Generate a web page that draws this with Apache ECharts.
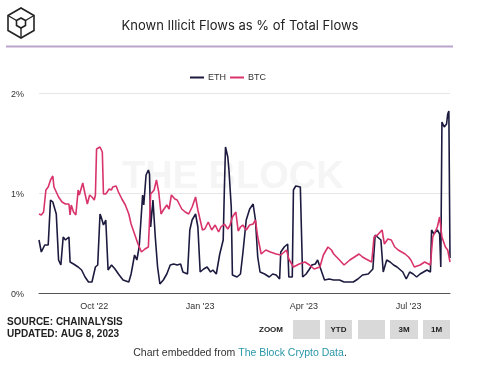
<!DOCTYPE html>
<html><head><meta charset="utf-8">
<script src="https://cdn.jsdelivr.net/npm/echarts@6/dist/echarts.min.js"></script>
<style>html,body{margin:0;padding:0;background:#fff}#c{width:480px;height:367px}</style>
</head><body><div id="c"></div>
<script>
var titleText = "Known Illicit Flows as % of Total Flows";
var seriesNames = ["ETH", "BTC"];
var seriesColors = ["#1c1b3f", "#d8336a"];
var xTickDates = ["2022-10-01", "2023-01-01", "2023-04-01", "2023-07-01"];
var xTickLabels = ["Oct '22", "Jan '23", "Apr '23", "Jul '23"];
var yTicks = [0, 1, 2];

var ethData = [
["2022-08-14",0.53],["2022-08-16",0.41],["2022-08-19",0.48],["2022-08-22",0.48],["2022-08-24",0.93],
["2022-08-26",0.91],["2022-08-28",0.83],["2022-08-29",0.79],["2022-08-31",0.33],["2022-09-02",0.28],
["2022-09-04",0.56],["2022-09-06",0.53],["2022-09-09",0.56],["2022-09-10",0.31],["2022-09-13",0.29],
["2022-09-17",0.26],["2022-09-20",0.23],["2022-09-23",0.16],["2022-09-26",0.11],["2022-09-29",0.11],
["2022-10-02",0.26],["2022-10-04",0.28],["2022-10-06",0.79],["2022-10-07",0.76],["2022-10-09",0.68],
["2022-10-11",0.73],["2022-10-13",0.23],["2022-10-16",0.28],["2022-10-19",0.24],["2022-10-22",0.19],
["2022-10-26",0.13],["2022-10-31",0.11],["2022-11-02",0.19],["2022-11-05",0.38],["2022-11-07",0.33],
["2022-11-09",0.46],["2022-11-12",0.98],["2022-11-13",0.88],["2022-11-15",1.18],["2022-11-17",1.23],
["2022-11-18",1.19],["2022-11-19",0.66],["2022-11-21",0.93],["2022-11-23",0.56],["2022-11-25",0.26],
["2022-11-27",0.09],["2022-11-30",0.13],["2022-12-03",0.19],["2022-12-06",0.28],["2022-12-09",0.29],
["2022-12-12",0.28],["2022-12-15",0.29],["2022-12-17",0.21],["2022-12-21",0.19],["2022-12-23",0.63],
["2022-12-25",0.73],["2022-12-28",0.79],["2022-12-30",0.66],["2023-01-01",0.21],["2023-01-04",0.24],
["2023-01-07",0.26],["2023-01-10",0.21],["2023-01-12",0.23],["2023-01-15",0.19],["2023-01-18",0.39],
["2023-01-21",0.53],["2023-01-22",1.03],["2023-01-23",1.46],["2023-01-25",1.36],["2023-01-26",1.23],
["2023-01-28",0.86],["2023-01-29",0.18],["2023-02-02",0.16],["2023-02-05",0.19],["2023-02-07",0.39],
["2023-02-10",0.73],["2023-02-13",0.84],["2023-02-16",0.89],["2023-02-18",0.73],["2023-02-20",0.36],
["2023-02-22",0.21],["2023-02-26",0.19],["2023-03-02",0.16],["2023-03-05",0.19],["2023-03-08",0.18],
["2023-03-11",0.14],["2023-03-12",0.41],["2023-03-15",0.46],["2023-03-18",0.49],["2023-03-19",0.16],
["2023-03-22",0.16],["2023-03-23",1.03],["2023-03-25",1.07],["2023-03-29",1.06],["2023-03-31",0.16],
["2023-04-03",0.19],["2023-04-06",0.24],["2023-04-08",0.28],["2023-04-11",0.29],["2023-04-13",0.33],
["2023-04-16",0.23],["2023-04-19",0.13],["2023-04-23",0.14],["2023-04-27",0.13],["2023-05-02",0.13],
["2023-05-06",0.11],["2023-05-11",0.11],["2023-05-14",0.11],["2023-05-18",0.14],["2023-05-22",0.18],
["2023-05-27",0.19],["2023-05-31",0.24],["2023-06-02",0.58],["2023-06-04",0.56],["2023-06-07",0.53],
["2023-06-09",0.21],["2023-06-12",0.33],["2023-06-15",0.31],["2023-06-18",0.28],["2023-06-21",0.26],
["2023-06-24",0.23],["2023-06-26",0.21],["2023-06-29",0.14],["2023-07-02",0.21],["2023-07-05",0.19],
["2023-07-08",0.16],["2023-07-11",0.19],["2023-07-14",0.21],["2023-07-17",0.23],["2023-07-20",0.21],
["2023-07-21",0.63],["2023-07-23",0.59],["2023-07-26",0.63],["2023-07-28",0.59],["2023-07-29",0.26],
["2023-07-30",1.71],["2023-08-01",1.66],["2023-08-03",1.69],["2023-08-04",1.79],["2023-08-05",1.82],
["2023-08-06",0.35]
];

var btcData = [
["2022-08-14",0.79],["2022-08-16",0.78],["2022-08-18",0.81],["2022-08-20",1.03],["2022-08-22",1.06],
["2022-08-24",1.13],["2022-08-26",1.17],["2022-08-27",1.06],["2022-08-29",1.01],["2022-08-31",0.96],
["2022-09-03",0.91],["2022-09-06",0.89],["2022-09-09",0.89],["2022-09-10",0.78],["2022-09-11",0.88],
["2022-09-13",0.81],["2022-09-15",0.78],["2022-09-17",1.03],["2022-09-18",0.98],["2022-09-21",1.10],
["2022-09-23",0.99],["2022-09-25",0.89],["2022-09-27",0.98],["2022-09-29",0.96],["2022-10-01",0.93],
["2022-10-02",0.98],["2022-10-03",1.44],["2022-10-06",1.46],["2022-10-08",1.41],["2022-10-09",0.99],
["2022-10-11",0.99],["2022-10-14",1.04],["2022-10-16",1.03],["2022-10-17",1.06],["2022-10-20",1.07],
["2022-10-22",1.01],["2022-10-25",0.94],["2022-10-28",0.88],["2022-10-31",0.79],["2022-11-02",0.69],
["2022-11-05",0.59],["2022-11-08",0.49],["2022-11-11",0.41],["2022-11-14",0.44],["2022-11-17",0.46],
["2022-11-19",0.99],["2022-11-22",1.03],["2022-11-24",1.13],["2022-11-26",1.01],["2022-11-28",0.79],
["2022-11-30",0.83],["2022-12-03",0.88],["2022-12-05",0.84],["2022-12-07",0.98],["2022-12-10",0.94],
["2022-12-12",0.93],["2022-12-16",0.84],["2022-12-19",0.81],["2022-12-22",0.79],["2022-12-25",0.86],
["2022-12-28",0.96],["2022-12-30",0.83],["2023-01-01",0.73],["2023-01-03",0.63],["2023-01-05",0.64],
["2023-01-08",0.71],["2023-01-11",0.63],["2023-01-14",0.68],["2023-01-17",0.61],["2023-01-19",0.66],
["2023-01-22",0.69],["2023-01-25",0.64],["2023-01-27",0.68],["2023-01-29",0.76],["2023-02-01",0.81],
["2023-02-03",0.62],["2023-02-05",0.66],["2023-02-07",0.68],["2023-02-10",0.63],["2023-02-13",0.68],
["2023-02-16",0.69],["2023-02-18",0.73],["2023-02-20",0.56],["2023-02-23",0.39],["2023-02-27",0.43],
["2023-03-03",0.41],["2023-03-08",0.39],["2023-03-12",0.38],["2023-03-17",0.43],["2023-03-19",0.34],
["2023-03-23",0.26],["2023-03-28",0.29],["2023-04-02",0.31],["2023-04-06",0.28],["2023-04-10",0.24],
["2023-04-15",0.26],["2023-04-18",0.38],["2023-04-22",0.46],["2023-04-25",0.43],["2023-04-27",0.39],
["2023-05-02",0.33],["2023-05-06",0.28],["2023-05-11",0.33],["2023-05-15",0.36],["2023-05-19",0.39],
["2023-05-22",0.36],["2023-05-25",0.34],["2023-05-30",0.31],["2023-06-01",0.56],["2023-06-04",0.58],
["2023-06-08",0.63],["2023-06-10",0.49],["2023-06-13",0.54],["2023-06-16",0.53],["2023-06-19",0.46],
["2023-06-22",0.43],["2023-06-25",0.41],["2023-06-28",0.39],["2023-07-01",0.36],["2023-07-03",0.33],
["2023-07-06",0.26],["2023-07-11",0.28],["2023-07-15",0.31],["2023-07-20",0.28],["2023-07-22",0.56],
["2023-07-26",0.66],["2023-07-28",0.76],["2023-07-30",0.56],["2023-08-02",0.46],["2023-08-04",0.43],
["2023-08-06",0.31]
];

var xMin = "2022-08-14", xMax = "2023-08-06";

function parseUTC(s){ var p = s.split("-"); return Date.UTC(+p[0], +p[1]-1, +p[2]); }
var tickTimes = xTickDates.map(parseUTC);
function toPoints(arr){ return arr.map(function(d){ return [parseUTC(d[0]), d[1]]; }); }

var chart = echarts.init(document.getElementById("c"), null, {renderer: "canvas"});
var baseFont = "Liberation Sans, Arial, sans-serif";

var option = {
  animation: false,
  backgroundColor: "#fff",
  title: {
    text: titleText, left: "center", top: 15,
    textStyle: {fontFamily: "Inter, Lato, sans-serif", fontSize: 13, fontWeight: "normal", color: "#222"}
  },
  legend: {
    data: seriesNames, top: 68, left: 185,
    icon: "rect", itemWidth: 14, itemHeight: 2, itemGap: 4,
    textStyle: {fontFamily: baseFont, fontSize: 9, color: "#333", padding: [0, 0, 0, -1]}
  },
  grid: {left: 39, right: 30, top: 93, bottom: 74},
  xAxis: {
    type: "value", min: parseUTC(xMin), max: parseUTC(xMax),
    axisLine: {onZero: false, lineStyle: {color: "#555", width: 1}},
    axisTick: {show: false},
    splitLine: {show: false},
    axisLabel: {
      customValues: tickTimes,
      color: "#333", fontFamily: baseFont, fontSize: 9, margin: 9,
      formatter: function (v) {
        for (var k = 0; k < tickTimes.length; k++) if (Math.abs(tickTimes[k]-v) < 864e5) return xTickLabels[k];
        return "";
      }
    }
  },
  yAxis: {
    type: "value", min: yTicks[0], max: yTicks[yTicks.length-1], interval: 1,
    axisLine: {show: false}, axisTick: {show: false},
    splitLine: {lineStyle: {color: "#e6e6e6", width: 1}},
    axisLabel: {
      formatter: "{value}%", align: "left", margin: 28, verticalAlign: "top", padding: [-3, 0, 0, 0],
      color: "#333", fontFamily: baseFont, fontSize: 9
    }
  },
  graphic: [
    {type: "polygon", shape: {points: [[21,8],[34,15.5],[34,30.5],[21,38],[8,30.5],[8,15.5]]},
     style: {fill: "none", stroke: "#222", lineWidth: 1.6}},
    {type: "polygon", shape: {points: [[21,18],[25.5,20.5],[25.5,25.5],[21,28],[16.5,25.5],[16.5,20.5]]},
     style: {fill: "none", stroke: "#222", lineWidth: 1.6}},
    {type: "polyline", shape: {points: [[8,15.5],[16.5,20.5]]}, style: {stroke: "#222", lineWidth: 1.4}},
    {type: "polyline", shape: {points: [[34,15.5],[25.5,20.5]]}, style: {stroke: "#222", lineWidth: 1.4}},
    {type: "polyline", shape: {points: [[21,28],[21,38]]}, style: {stroke: "#222", lineWidth: 1.4}},
    {type: "rect", shape: {x: 6, y: 45.5, width: 447, height: 2}, style: {fill: "#bba3cc"}},
    {type: "text", left: 122, top: 159, z: 0,
     style: {text: "THE BLOCK", fontFamily: "Liberation Sans, Arial, sans-serif", fontWeight: "bold", fontSize: 38, fill: "#f5f5f5"}},
    {type: "text", left: 7, top: 317,
     style: {text: "SOURCE: CHAINALYSIS", fontFamily: baseFont, fontWeight: "bold", fontSize: 10, fill: "#222"}},
    {type: "text", left: 7, top: 329,
     style: {text: "UPDATED: AUG 8, 2023", fontFamily: baseFont, fontWeight: "bold", fontSize: 10, fill: "#222"}},
    {type: "text", left: 259, top: 326,
     style: {text: "ZOOM", fontFamily: baseFont, fontWeight: "bold", fontSize: 8, fill: "#222"}},
    {type: "rect", shape: {x: 293, y: 320, width: 27, height: 19}, style: {fill: "#d9d9d9"}},
    {type: "rect", shape: {x: 325, y: 320, width: 27, height: 19}, style: {fill: "#d9d9d9"}},
    {type: "rect", shape: {x: 358, y: 320, width: 27, height: 19}, style: {fill: "#d9d9d9"}},
    {type: "rect", shape: {x: 390, y: 320, width: 28, height: 19}, style: {fill: "#d9d9d9"}},
    {type: "rect", shape: {x: 423, y: 320, width: 27, height: 19}, style: {fill: "#d9d9d9"}},
    {type: "text", x: 338.5, y: 330, style: {text: "YTD", align: "center", verticalAlign: "middle", fontFamily: baseFont, fontWeight: "bold", fontSize: 8, fill: "#222"}},
    {type: "text", x: 404, y: 330, style: {text: "3M", align: "center", verticalAlign: "middle", fontFamily: baseFont, fontWeight: "bold", fontSize: 8, fill: "#222"}},
    {type: "text", x: 436.5, y: 330, style: {text: "1M", align: "center", verticalAlign: "middle", fontFamily: baseFont, fontWeight: "bold", fontSize: 8, fill: "#222"}},
    {type: "text", x: 240, y: 353,
     style: {rich: {a: {fontFamily: baseFont, fontSize: 10.5, fill: "#333", color: "#333"},
                     b: {fontFamily: baseFont, fontSize: 10.5, fill: "#2a97a8", color: "#2a97a8"}},
             text: "{a|Chart embedded from }{b|The Block Crypto Data}{a|.}",
             align: "center", verticalAlign: "middle"}}
  ],
  series: [
    {name: seriesNames[0], type: "line", data: toPoints(ethData), symbol: "none", z: 3,
     lineStyle: {color: seriesColors[0], width: 1.6}, itemStyle: {color: seriesColors[0]}},
    {name: seriesNames[1], type: "line", data: toPoints(btcData), symbol: "none", z: 3,
     lineStyle: {color: seriesColors[1], width: 1.6}, itemStyle: {color: seriesColors[1]}}
  ]
};
chart.setOption(option);
</script>
</body></html>
